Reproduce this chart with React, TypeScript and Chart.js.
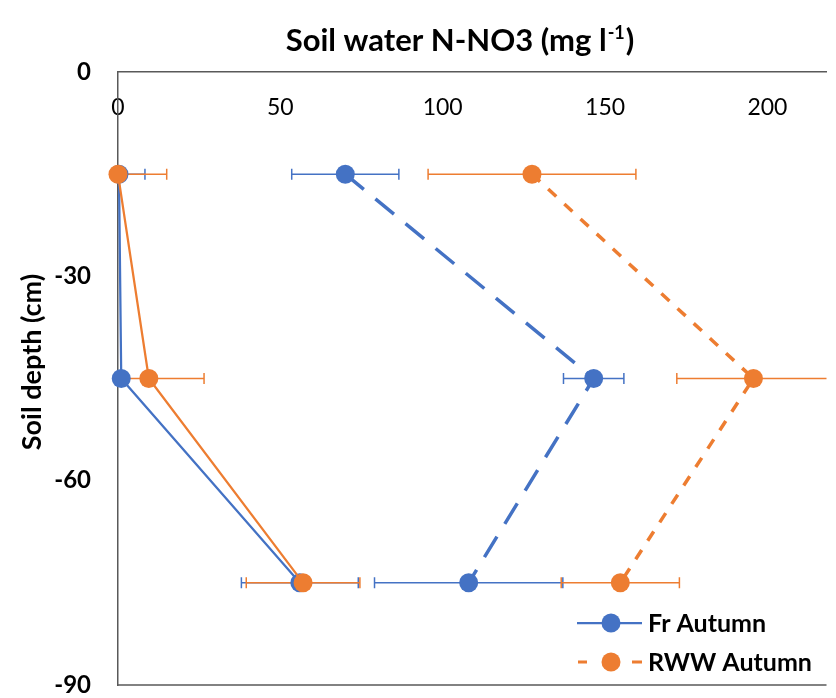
import React, { useEffect, useRef } from "react";
import { Chart, registerables } from "chart.js";

Chart.register(...registerables);

// Sampling depths (cm, negative downwards)
const depths = [-15, -45, -75];

// Soil water N-NO3 concentrations (mg l-1) and their error half-widths
const frAutumn = [0.3, 1, 56];
const frAutumnErr = [8, 2, 18];
const rwwSolid = [0, 9.5, 57];
const rwwSolidErr = [15, 17, 17.5];
const frDashed = [70, 146.5, 108];
const frDashedErr = [16.5, 9.3, 29];
const rwwAutumn = [127.5, 195.7, 154.7];
const rwwAutumnErr = [32, 23.6, 18.2];

const xTicks = [0, 50, 100, 150, 200];
const yTicks = [0, -30, -60, -90];

const BLUE = "#4472C4";
const ORANGE = "#ED7D31";
const FONT = "Lato, 'Open Sans', sans-serif";

type Series = {
  label: string;
  values: number[];
  errors: number[];
  color: string;
  dash: number[];
  width: number;
  order: number;
  inLegend: boolean;
};

const series: Series[] = [
  { label: "Fr Autumn", values: frAutumn, errors: frAutumnErr, color: BLUE, dash: [], width: 2.25, order: 1, inLegend: true },
  { label: "RWW (solid)", values: rwwSolid, errors: rwwSolidErr, color: ORANGE, dash: [], width: 2.25, order: 0, inLegend: false },
  { label: "Fr (dashed)", values: frDashed, errors: frDashedErr, color: BLUE, dash: [24, 15], width: 3.5, order: 3, inLegend: false },
  { label: "RWW Autumn", values: rwwAutumn, errors: rwwAutumnErr, color: ORANGE, dash: [11, 11], width: 3.5, order: 2, inLegend: true },
];

// Horizontal error bars with end caps, drawn under the lines and markers
const errorBarPlugin = {
  id: "errorBars",
  beforeDatasetsDraw(chart: any) {
    const { ctx, chartArea, scales } = chart;
    const xs = scales.x;
    const ys = scales.y;
    ctx.save();
    ctx.beginPath();
    ctx.rect(chartArea.left, chartArea.top, chartArea.right - chartArea.left, chartArea.bottom - chartArea.top);
    ctx.clip();
    ctx.lineWidth = 1.5;
    const order = [2, 3, 0, 1];
    for (const idx of order) {
      const s = series[idx];
      ctx.strokeStyle = s.color;
      s.values.forEach((v, j) => {
        const y = ys.getPixelForValue(depths[j]);
        const xl = xs.getPixelForValue(v - s.errors[j]);
        const xr = xs.getPixelForValue(v + s.errors[j]);
        ctx.beginPath();
        ctx.moveTo(xl, y);
        ctx.lineTo(xr, y);
        ctx.moveTo(xl, y - 5.5);
        ctx.lineTo(xl, y + 5.5);
        ctx.moveTo(xr, y - 5.5);
        ctx.lineTo(xr, y + 5.5);
        ctx.stroke();
      });
    }
    ctx.restore();
  },
};

// Title with superscript unit, rotated y-axis title, bottom frame line and legend
const decorPlugin = {
  id: "decor",
  afterDraw(chart: any) {
    const { ctx, chartArea } = chart;
    ctx.save();

    // bottom frame line
    ctx.strokeStyle = "#595959";
    ctx.lineWidth = 1.5;
    ctx.beginPath();
    ctx.moveTo(chartArea.left, chartArea.bottom);
    ctx.lineTo(chartArea.right, chartArea.bottom);
    ctx.stroke();

    // chart title
    ctx.fillStyle = "#000";
    ctx.textBaseline = "alphabetic";
    ctx.textAlign = "left";
    const mainFont = `bold 31px ${FONT}`;
    const supFont = `bold 18px ${FONT}`;
    const part1 = "Soil water N-NO3 (mg l";
    const sup = "-1";
    const part2 = ")";
    ctx.font = mainFont;
    const w1 = ctx.measureText(part1).width;
    const w3 = ctx.measureText(part2).width;
    ctx.font = supFont;
    const w2 = ctx.measureText(sup).width;
    const total = w1 + w2 + w3;
    let x = 459 - total / 2;
    const base = 51;
    ctx.font = mainFont;
    ctx.fillText(part1, x, base);
    x += w1;
    ctx.font = supFont;
    ctx.fillText(sup, x + 1, base - 12);
    x += w2 + 2;
    ctx.font = mainFont;
    ctx.fillText(part2, x, base);

    // y-axis title
    ctx.save();
    ctx.translate(32, 362);
    ctx.rotate(-Math.PI / 2);
    ctx.font = `bold 27px ${FONT}`;
    ctx.textAlign = "center";
    ctx.textBaseline = "middle";
    ctx.fillText("Soil depth (cm)", 0, 0);
    ctx.restore();

    // legend
    const rows = series.filter((s) => s.inLegend);
    rows.forEach((s, i) => {
      const cy = 623 + i * 39;
      ctx.strokeStyle = s.color;
      ctx.lineWidth = s.dash.length ? 3 : 2.25;
      ctx.beginPath();
      if (s.dash.length) {
        ctx.moveTo(578, cy);
        ctx.lineTo(587, cy);
        ctx.moveTo(632, cy);
        ctx.lineTo(642, cy);
      } else {
        ctx.moveTo(577, cy);
        ctx.lineTo(642, cy);
      }
      ctx.stroke();
      ctx.fillStyle = s.color;
      ctx.beginPath();
      ctx.arc(611, cy, 9.5, 0, Math.PI * 2);
      ctx.fill();
      ctx.fillStyle = "#000";
      ctx.font = `bold 25px ${FONT}`;
      ctx.textAlign = "left";
      ctx.textBaseline = "middle";
      ctx.fillText(s.label, 648, cy + 1);
    });

    ctx.restore();
  },
};

export default function App() {
  const canvasRef = useRef<HTMLCanvasElement | null>(null);

  useEffect(() => {
    if (!canvasRef.current) return;
    const chart = new Chart(canvasRef.current, {
      type: "scatter",
      data: {
        datasets: series.map((s) => ({
          label: s.label,
          data: depths.map((d, i) => ({ x: s.values[i], y: d })),
          showLine: true,
          borderColor: s.color,
          backgroundColor: s.color,
          borderWidth: s.width,
          borderDash: s.dash,
          pointRadius: 9.5,
          pointHoverRadius: 9.5,
          pointBorderWidth: 0,
          pointBackgroundColor: s.color,
          order: s.order,
          clip: false,
        })),
      },
      plugins: [errorBarPlugin, decorPlugin],
      options: {
        responsive: false,
        animation: false,
        events: [],
        layout: { padding: { top: 72, right: 0, bottom: 13, left: 0 } },
        plugins: {
          legend: { display: false },
          title: { display: false },
          tooltip: { enabled: false },
        },
        scales: {
          x: {
            type: "linear",
            position: { y: 0 } as any,
            min: 0,
            max: 218.2,
            afterBuildTicks: (scale: any) => {
              scale.ticks = xTicks.map((v) => ({ value: v }));
            },
            afterFit: (scale: any) => {
              scale.height = 0;
            },
            grid: { display: false, drawTicks: false },
            border: { display: true, color: "#595959", width: 1.5 },
            ticks: {
              padding: 22,
              color: "#000",
              font: { family: FONT, size: 23 },
              maxRotation: 0,
            },
          },
          y: {
            type: "linear",
            min: -90,
            max: 0,
            afterBuildTicks: (scale: any) => {
              scale.ticks = yTicks.map((v) => ({ value: v }));
            },
            afterFit: (scale: any) => {
              scale.width = 118;
              scale.paddingTop = 0;
              scale.paddingBottom = 0;
            },
            grid: { display: false, drawTicks: false },
            border: { display: true, color: "#595959", width: 1.5 },
            ticks: {
              padding: 27,
              color: "#000",
              font: { family: FONT, size: 24, weight: "bold" },
            },
          },
        },
      },
    });
    return () => chart.destroy();
  }, []);

  return (
    <div style={{ position: "absolute", left: 0, top: 0, width: 836, height: 698, background: "#fff" }}>
      <canvas ref={canvasRef} width={836} height={698} style={{ display: "block" }} />
    </div>
  );
}
